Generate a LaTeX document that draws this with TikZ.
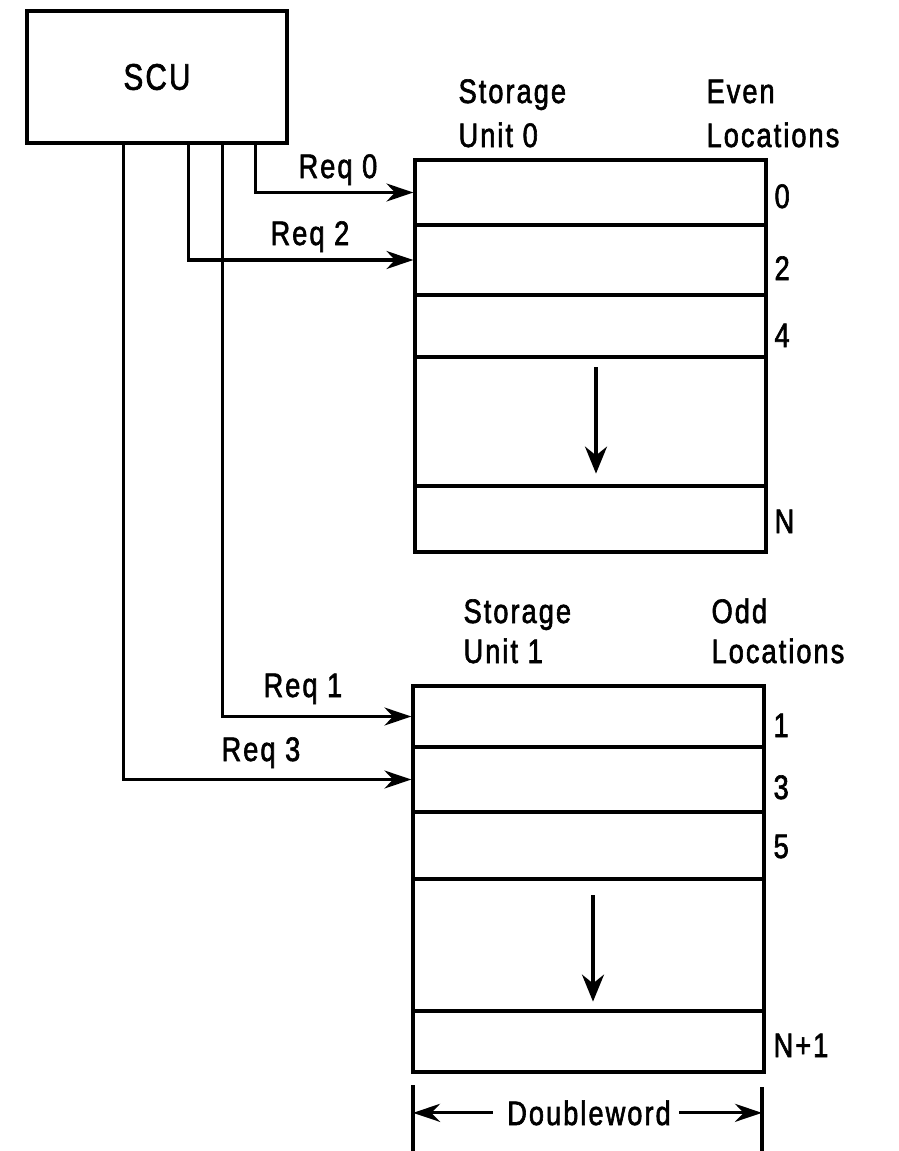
\documentclass[tikz,border=0pt]{standalone}
\usepackage{fontspec}
\setmainfont{Liberation Sans}[FakeStretch=0.8,LetterSpace=6,FakeBold=1.8]
\usetikzlibrary{arrows.meta}
\begin{document}
\begin{tikzpicture}[x=1pt,y=-1pt,line width=3.2pt,
  lbl/.style={font=\fontsize{34}{40}\selectfont,inner sep=0pt,anchor=base west},
  cell/.style={draw,rectangle,inner sep=0pt,minimum width=351pt},
  arr/.style={-{Stealth[length=27pt,width=18pt]}},
  darr/.style={-{Stealth[length=27pt,width=22pt]}}]
\useasboundingbox (0,0) rectangle (898,1151);
% SCU
\node[draw,rectangle,minimum width=260pt,minimum height=132pt,inner sep=0pt,
      font=\fontsize{37}{44}\selectfont] (scu) at (157,77) {SCU};
% Storage unit 0 rows
\node[cell,minimum height=65pt]  (a0) at (590.5,192.5) {};
\node[cell,minimum height=70pt]  (a1) at (590.5,260) {};
\node[cell,minimum height=62pt]  (a2) at (590.5,326) {};
\node[cell,minimum height=129pt] (a3) at (590.5,421.5) {};
\node[cell,minimum height=66pt]  (a4) at (590.5,519) {};
% Storage unit 1 rows
\node[cell,minimum height=61pt]  (b0) at (588.5,716.5) {};
\node[cell,minimum height=65pt]  (b1) at (588.5,779.5) {};
\node[cell,minimum height=67pt]  (b2) at (588.5,845.5) {};
\node[cell,minimum height=132pt] (b3) at (588.5,945) {};
\node[cell,minimum height=61pt]  (b4) at (588.5,1041.5) {};
% headers
\node[lbl] (h0a) at (457,103) {Storage};
\node[lbl] (h0b) at (457,147) {Unit 0};
\node[lbl] (e0a) at (705,103) {Even};
\node[lbl] (e0b) at (705,147) {Locations};
\node[lbl] (h1a) at (462,623) {Storage};
\node[lbl] (h1b) at (462,663) {Unit 1};
\node[lbl] (e1a) at (710,623) {Odd};
\node[lbl] (e1b) at (710,663) {Locations};
% location numbers
\node[lbl] (n0) at (773,208) {0};
\node[lbl] (n2) at (773,280) {2};
\node[lbl] (n4) at (773,347) {4};
\node[lbl] (nN) at (773,533) {N};
\node[lbl] (n1) at (772,737) {1};
\node[lbl] (n3) at (772,799) {3};
\node[lbl] (n5) at (772,858) {5};
\node[lbl] (nN1) at (772,1057) {N+1};
% request labels
\node[lbl] (r0) at (297,178) {Req 0};
\node[lbl] (r2) at (269,245) {Req 2};
\node[lbl] (r1) at (262,697) {Req 1};
\node[lbl] (r3) at (220,761) {Req 3};
% request connectors
\draw[arr] ([xshift=230pt]scu.south west) |- (a0.west);
\draw[arr] ([xshift=163pt]scu.south west) |- (a1.west);
\draw[arr] ([xshift=197pt]scu.south west) |- (b0.west);
\draw[arr] ([xshift=98pt]scu.south west) |- (b1.west);
% internal down arrows
\draw[darr] ([xshift=5.5pt,yshift=-12pt]a3.north) -- ([xshift=5.5pt,yshift=14pt]a3.south);
\draw[darr] ([xshift=4.5pt,yshift=-18pt]b3.north) -- ([xshift=4.5pt,yshift=11pt]b3.south);
% doubleword dimension
\coordinate (dlt) at (413,1085);
\coordinate (dlb) at (413,1151);
\coordinate (drt) at (762,1087);
\coordinate (drb) at (762,1151);
\draw (dlt) -- (dlb);
\draw (drt) -- (drb);
\node[lbl,anchor=base] (dw) at (589,1125) {Doubleword};
\draw[arr] ([xshift=-13pt]dw.west) -- (dw.west -| dlt);
\draw[arr] ([xshift=7pt]dw.east) -- (dw.east -| drt);
\end{tikzpicture}
\end{document}
